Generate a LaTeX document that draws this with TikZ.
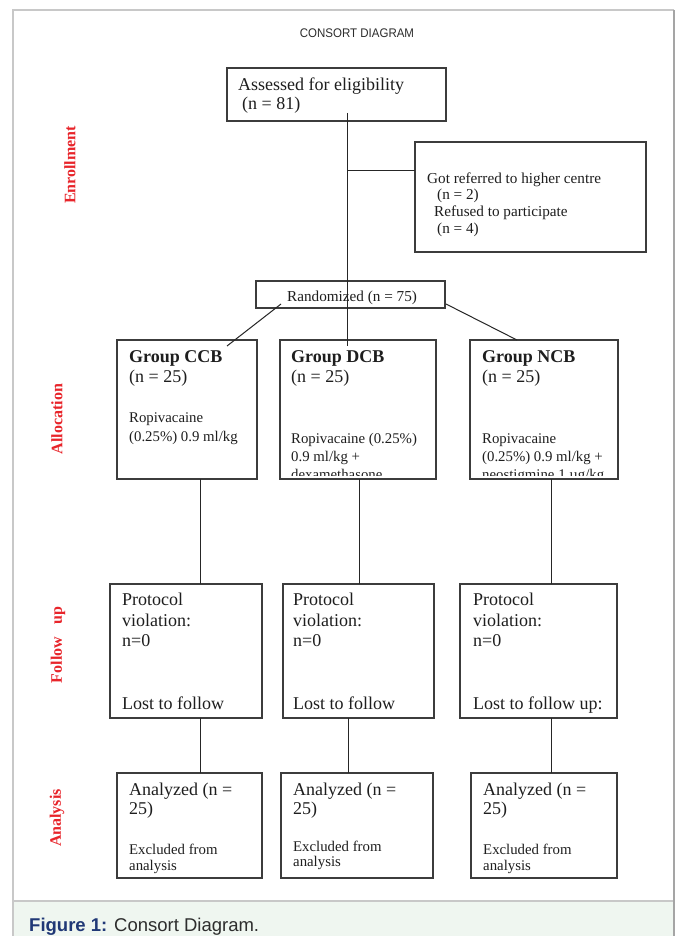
\documentclass[tikz,border=0pt]{standalone}
\usepackage{fontspec}
\setmainfont{Liberation Serif}
\setsansfont{Liberation Sans}
\definecolor{boxcol}{RGB}{60,60,60}
\definecolor{txt}{RGB}{30,30,30}
\definecolor{sidered}{RGB}{232,36,42}
\definecolor{framegray}{RGB}{200,200,200}
\definecolor{framedark}{RGB}{165,165,165}
\definecolor{capfill}{RGB}{239,246,240}
\definecolor{figblue}{RGB}{32,56,118}
\definecolor{captxt}{RGB}{45,45,45}
\begin{document}
\begin{tikzpicture}[x=1pt,y=-1pt,
  box/.style={draw=boxcol, line width=1.2pt, inner sep=0pt, outer sep=0pt, anchor=north west},
  conn/.style={draw=black!85, line width=1pt},
  big/.style={anchor=base west, inner sep=0pt, text=txt, font=\fontsize{18}{20}\selectfont},
  small/.style={anchor=base west, inner sep=0pt, text=txt, font=\fontsize{14.8}{16}\selectfont},
  smallb/.style={anchor=base west, inner sep=0pt, text=txt, font=\fontsize{15.2}{16}\selectfont},
  side/.style={rotate=90, inner sep=0pt, text=sidered, font=\bfseries\fontsize{16}{18}\selectfont}]

\useasboundingbox (0,0) rectangle (680,936);
\fill[white] (0,0) rectangle (680,936);
% caption band and frame
\fill[capfill] (13,901) rectangle (674,936);
\draw[framegray, line width=2pt] (13,901) -- (674,901);
\draw[framegray, line width=2pt] (13,936) -- (13,10) -- (674,10);
\draw[framedark, line width=1.5pt] (674,10) -- (674,936);

% title
\node[anchor=base, inner sep=0pt, text=captxt, font=\sffamily\fontsize{12.5}{14}\selectfont, xscale=0.92, transform shape] (title) at (357,38) {CONSORT DIAGRAM};

% boxes
\node[box, minimum width=219pt, minimum height=53pt] (b1) at (227,68) {};
\node[box, minimum width=231pt, minimum height=110pt] (excl) at (415,142) {};
\node[box, minimum width=189pt, minimum height=27pt] (rand) at (256,281) {};
\node[box, minimum width=140pt, minimum height=139pt] (ccb) at (117,340) {};
\node[box, minimum width=156pt, minimum height=139pt] (dcb) at (280,340) {};
\node[box, minimum width=148pt, minimum height=139pt] (ncb) at (470,340) {};
\node[box, minimum width=152pt, minimum height=134pt] (f1) at (110,584) {};
\node[box, minimum width=151pt, minimum height=134pt] (f2) at (283,584) {};
\node[box, minimum width=157pt, minimum height=134pt] (f3) at (460,584) {};
\node[box, minimum width=145pt, minimum height=105pt] (a1) at (117,773) {};
\node[box, minimum width=152pt, minimum height=105pt] (a2) at (281,773) {};
\node[box, minimum width=146pt, minimum height=105pt] (a3) at (471,773) {};

% connectors
\coordinate (s1) at (347,113);
\coordinate (t1) at (347,346);
\coordinate (j1) at (347,171);
\coordinate (rl) at (281,304);
\coordinate (cl) at (227,346);
\coordinate (rr) at (446,304);
\coordinate (nr) at (517,340);
\coordinate (v1) at (200,0);
\coordinate (v2) at (359,0);
\coordinate (v3) at (551,0);
\coordinate (w2) at (348,0);
\draw[conn] (s1) -- (t1);
\draw[conn] (j1) -- (j1 -| excl.west);
\draw[conn] (rl) -- (cl);
\draw[conn] (rr) -- (nr);
\draw[conn] (ccb.south -| v1) -- (f1.north -| v1);
\draw[conn] (dcb.south -| v2) -- (f2.north -| v2);
\draw[conn] (ncb.south -| v3) -- (f3.north -| v3);
\draw[conn] (f1.south -| v1) -- (a1.north -| v1);
\draw[conn] (f2.south -| w2) -- (a2.north -| w2);
\draw[conn] (f3.south -| v3) -- (a3.north -| v3);

% texts
\node[big] (b1a) at (238,91) {Assessed for eligibility};
\node[big] (b1b) at (242,110) {(n = 81)};

\node[smallb] (ex1) at (427,183) {Got referred to higher centre};
\node[smallb] (ex2) at (437,199) {(n = 2)};
\node[smallb] (ex3) at (434,216) {Refused to participate};
\node[smallb] (ex4) at (437,233) {(n = 4)};

\node[smallb] (rt) at (287,301) {Randomized (n = 75)};

\node[big, font=\bfseries\fontsize{18}{20}\selectfont] (ccb1) at (129,362) {Group CCB};
\node[big] (ccb2) at (129,382) {(n = 25)};
\node[small] (ccb3) at (129,422) {Ropivacaine};
\node[small] (ccb4) at (129,441) {(0.25\%) 0.9 ml/kg};

\node[big, font=\bfseries\fontsize{18}{20}\selectfont] (dcb1) at (291,362) {Group DCB};
\node[big] (dcb2) at (291,382) {(n = 25)};
\node[small] (dcb3) at (291,443) {Ropivacaine (0.25\%)};
\node[small] (dcb4) at (291,461) {0.9 ml/kg +};

\node[big, font=\bfseries\fontsize{18}{20}\selectfont] (ncb1) at (482,362) {Group NCB};
\node[big] (ncb2) at (482,382) {(n = 25)};
\node[small] (ncb3) at (482,443) {Ropivacaine};
\node[small] (ncb4) at (482,461) {(0.25\%) 0.9 ml/kg +};

\begin{scope}
\clip (280,340) rectangle (618,475);
\node[small] (dcb5) at (291,479) {dexamethasone};
\node[small] (ncb5) at (482,479) {neostigmine 1 µg/kg};
\end{scope}

\node[big] (f1a) at (122,605) {Protocol};
\node[big] (f1b) at (122,626) {violation:};
\node[big] (f1c) at (122,646) {n=0};
\node[big] (f1d) at (122,709) {Lost to follow};
\node[big] (f2a) at (293,605) {Protocol};
\node[big] (f2b) at (293,626) {violation:};
\node[big] (f2c) at (293,646) {n=0};
\node[big] (f2d) at (293,709) {Lost to follow};
\node[big] (f3a) at (473,605) {Protocol};
\node[big] (f3b) at (473,626) {violation:};
\node[big] (f3c) at (473,646) {n=0};
\node[big] (f3d) at (473,709) {Lost to follow up:};

\node[big] (a1a) at (129,795) {Analyzed (n =};
\node[big] (a1b) at (129,814) {25)};
\node[small] (a1c) at (129,854) {Excluded from};
\node[small] (a1d) at (129,870) {analysis};
\node[big] (a2a) at (293,795) {Analyzed (n =};
\node[big] (a2b) at (293,814) {25)};
\node[small] (a2c) at (293,851) {Excluded from};
\node[small] (a2d) at (293,866) {analysis};
\node[big] (a3a) at (483,795) {Analyzed (n =};
\node[big] (a3b) at (483,814) {25)};
\node[small] (a3c) at (483,854) {Excluded from};
\node[small] (a3d) at (483,870) {analysis};

% side labels
\node[side] (sEn) at (70,165) {Enrollment};
\node[side] (sAl) at (57,419) {Allocation};
\node[side] (sFo) at (58,645) {Follow\hspace{0.75em}up};
\node[side] (sAn) at (57,818) {Analysis};

% caption
\node[anchor=base west, inner sep=0pt, text=captxt, font=\sffamily\fontsize{18.5}{20}\selectfont] (cap) at (29,931) {\textcolor{figblue}{\bfseries Figure 1:} Consort Diagram.};
\end{tikzpicture}
\end{document}
